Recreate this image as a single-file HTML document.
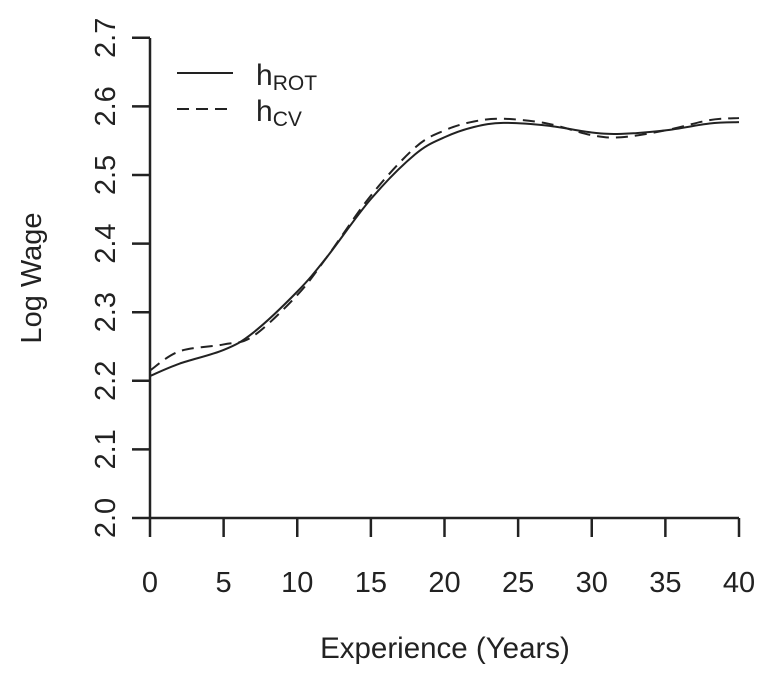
<!DOCTYPE html>
<html><head><style>body{margin:0;background:#fff}</style></head><body>
<svg id="s" width="764" height="673" xmlns="http://www.w3.org/2000/svg" font-family="Liberation Sans, sans-serif" fill="#222">
<g stroke="#222" stroke-width="2.5" fill="none">
<line x1="150" y1="38" x2="150" y2="518"/>
<line x1="150" y1="518" x2="739" y2="518"/>
<g id="xt"></g><g id="yt"></g>
<path id="rot" stroke-width="2"/>
<path id="cv" stroke-width="2" stroke-dasharray="12,7"/>
<line x1="177" y1="73" x2="233" y2="73" stroke-width="2"/>
<line x1="177" y1="109" x2="233" y2="109" stroke-width="2" stroke-dasharray="12,7"/>
</g>
<g font-size="29" id="lab"></g>
<text x="256" y="85" font-size="30">h<tspan font-size="21" dy="5">ROT</tspan></text>
<text x="256" y="121" font-size="30">h<tspan font-size="21" dy="5">CV</tspan></text>
<text x="445" y="658" font-size="29.5" text-anchor="middle">Experience (Years)</text>
<text transform="translate(41,278) rotate(-90)" font-size="29" text-anchor="middle">Log Wage</text>
</svg>
<script>
const X=v=>150+v*14.725, Y=v=>518-(v-2)*686;
let xt='',yt='',lab='';
for(let i=0;i<=40;i+=5){xt+=`<line x1="${X(i)}" y1="518" x2="${X(i)}" y2="537"/>`;lab+=`<text x="${X(i)}" y="592" text-anchor="middle">${i}</text>`;}
for(let i=0;i<=7;i++){let v=2+i/10,y=Y(v);yt+=`<line x1="132" y1="${y}" x2="150" y2="${y}"/>`;lab+=`<text transform="translate(115,${y}) rotate(-90)" text-anchor="middle">${v.toFixed(1)}</text>`;}
document.getElementById('xt').innerHTML=xt;document.getElementById('yt').innerHTML=yt;document.getElementById('lab').innerHTML=lab;
function path(p){p=p.map(a=>[X(a[0]),Y(a[1])]);let d=`M${p[0]}`;for(let i=0;i<p.length-1;i++){let p0=p[i-1]||p[i],p1=p[i],p2=p[i+1],p3=p[i+2]||p2;
d+=` C${p1[0]+(p2[0]-p0[0])/6},${p1[1]+(p2[1]-p0[1])/6} ${p2[0]-(p3[0]-p1[0])/6},${p2[1]-(p3[1]-p1[1])/6} ${p2}`;}return d;}
document.getElementById('rot').setAttribute('d',path([[0,2.207],[2,2.225],[5,2.245],[7,2.27],[10,2.33],[12,2.38],[15,2.465],[18,2.53],[20,2.555],[22,2.57],[24,2.576],[27,2.572],[30,2.562],[32,2.56],[35,2.565],[38,2.575],[40,2.577]]));
document.getElementById('cv').setAttribute('d',path([[0,2.215],[2,2.243],[5,2.253],[7,2.265],[10,2.325],[12,2.38],[15,2.47],[18,2.54],[20,2.565],[22,2.578],[24,2.582],[27,2.575],[30,2.558],[32,2.555],[35,2.565],[38,2.58],[40,2.583]]));
</script>
</body></html>
